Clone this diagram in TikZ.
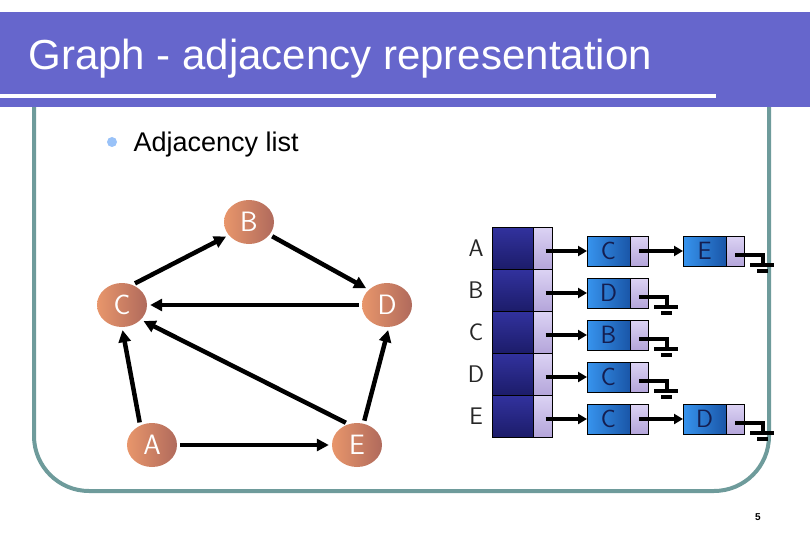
\documentclass[tikz,border=0pt]{standalone}
\usepackage{fontspec}
\setmainfont{Liberation Sans}
\usetikzlibrary{shapes.geometric,arrows.meta,positioning}

\definecolor{barblue}{HTML}{6666CC}
\definecolor{frameteal}{HTML}{6E9B9B}
\definecolor{bulletblue}{HTML}{99C2F8}
\definecolor{vtxlight}{HTML}{E8966B}
\definecolor{vtxdark}{HTML}{B06A5C}
\definecolor{headtop}{HTML}{32329E}
\definecolor{headbot}{HTML}{1C1C6A}
\definecolor{ptrtop}{HTML}{DCD3F4}
\definecolor{ptrbot}{HTML}{B4A5DA}
\definecolor{itemtop}{HTML}{3794EE}
\definecolor{itembot}{HTML}{1A56A8}
\definecolor{itemtext}{HTML}{141E50}

\tikzset{null ptr/.pic={
  \draw[line width=3.5pt] (0,4) -| (28,14);
  \draw[line width=3.5pt] (15,14) -- (39,14);
  \draw[line width=3.5pt] (22,20) -- (33,20);
}}

\begin{document}
\begin{tikzpicture}[x=1pt, y=-1pt,
    vertex/.style={ellipse,minimum width=50pt,minimum height=44pt,inner sep=0pt,
      left color=vtxlight,right color=vtxdark,text=white,
      font=\sffamily\fontsize{28}{28}\selectfont},
    edge line/.style={line width=4.5pt,-{Triangle[length=12pt,width=12pt]},
      shorten <=3pt,shorten >=3pt},
    head cell/.style={draw,rectangle,outer sep=0pt,minimum width=41pt,minimum height=42pt,
      top color=headtop,bottom color=headbot},
    ptr cell/.style={draw,rectangle,outer sep=0pt,minimum width=19pt,minimum height=42pt,
      top color=ptrtop,bottom color=ptrbot},
    item cell/.style={draw,rectangle,outer sep=0pt,minimum width=43pt,minimum height=30pt,
      inner sep=0pt,left color=itemtop,right color=itembot,text=itemtext,
      font=\sffamily\fontsize{25}{25}\selectfont},
    link cell/.style={draw,rectangle,outer sep=0pt,minimum width=18pt,minimum height=30pt,
      top color=ptrtop,bottom color=ptrbot},
    row label/.style={font=\sffamily\fontsize{24}{24}\selectfont,text=black!85},
    list arrow/.style={line width=4pt,-{Triangle[length=9pt,width=10pt]}}]

  \useasboundingbox (0,0) rectangle (810,540);

  % frame and title
  \draw[frameteal,line width=4pt,rounded corners=55pt] (34,100) -- (34,491) -- (769,491) -- (769,100);
  \fill[barblue] (0,12) rectangle (810,107);
  \fill[white] (0,94) rectangle (716,98);
  \node[anchor=base west,text=white,font=\fontsize{42}{42}\selectfont] (title) at (25,70)
    {Graph - adjacency representation};

  \fill[bulletblue] (112,142) circle (5pt);
  \node[anchor=base west,font=\fontsize{27}{27}\selectfont] (sub) at (130,152) {Adjacency list};

  % the graph
  \node[vertex] (b) at (249,222) {B};
  \node[vertex] (c) at (122,305) {C};
  \node[vertex] (d) at (387,305) {D};
  \node[vertex] (a) at (152,445) {A};
  \node[vertex] (e) at (357,445) {E};

  \draw[edge line] (c.63) -- (b.213);
  \draw[edge line] (b.328) -- (d.140);
  \draw[edge line] (d.west) -- (c.east);
  \draw[edge line] (e.112) -- (c.322);
  \draw[edge line] (a.121) -- (c.south);
  \draw[edge line] (a.east) -- (e.west);
  \draw[edge line] (e.73) -- (d.275);

  % adjacency lists
  \foreach \v/\w [count=\i from 0] in {A/C,B/D,C/B,D/C,E/C} {
    \node[head cell] (h\v) at (512.5,{248+42*\i}) {};
    \node[ptr cell,right=0pt of h\v] (p\v) {};
    \node[row label] (l\v) at (476,{248+42*\i}) {\v};
    \node[item cell] (f\v) at (608.5,{251+42*\i}) {\w};
    \node[link cell,right=0pt of f\v] (f\v p) {};
    \draw[list arrow] ([xshift=3pt]p\v.center |- f\v.west) -- (f\v.west);
  }

  \node[item cell] (sA) at (704.5,251) {E};
  \node[link cell,right=0pt of sA] (sAp) {};
  \node[item cell] (sE) at (704.5,419) {D};
  \node[link cell,right=0pt of sE] (sEp) {};
  \draw[list arrow] (fAp.center) -- (sA.west);
  \draw[list arrow] (fEp.center) -- (sE.west);

  \pic at (sAp.center) {null ptr};
  \pic at (fBp.center) {null ptr};
  \pic at (fCp.center) {null ptr};
  \pic at (fDp.center) {null ptr};
  \pic at (sEp.center) {null ptr};

  \node[font=\bfseries\fontsize{10}{10}\selectfont] (page) at (758,517) {5};

\end{tikzpicture}
\end{document}
